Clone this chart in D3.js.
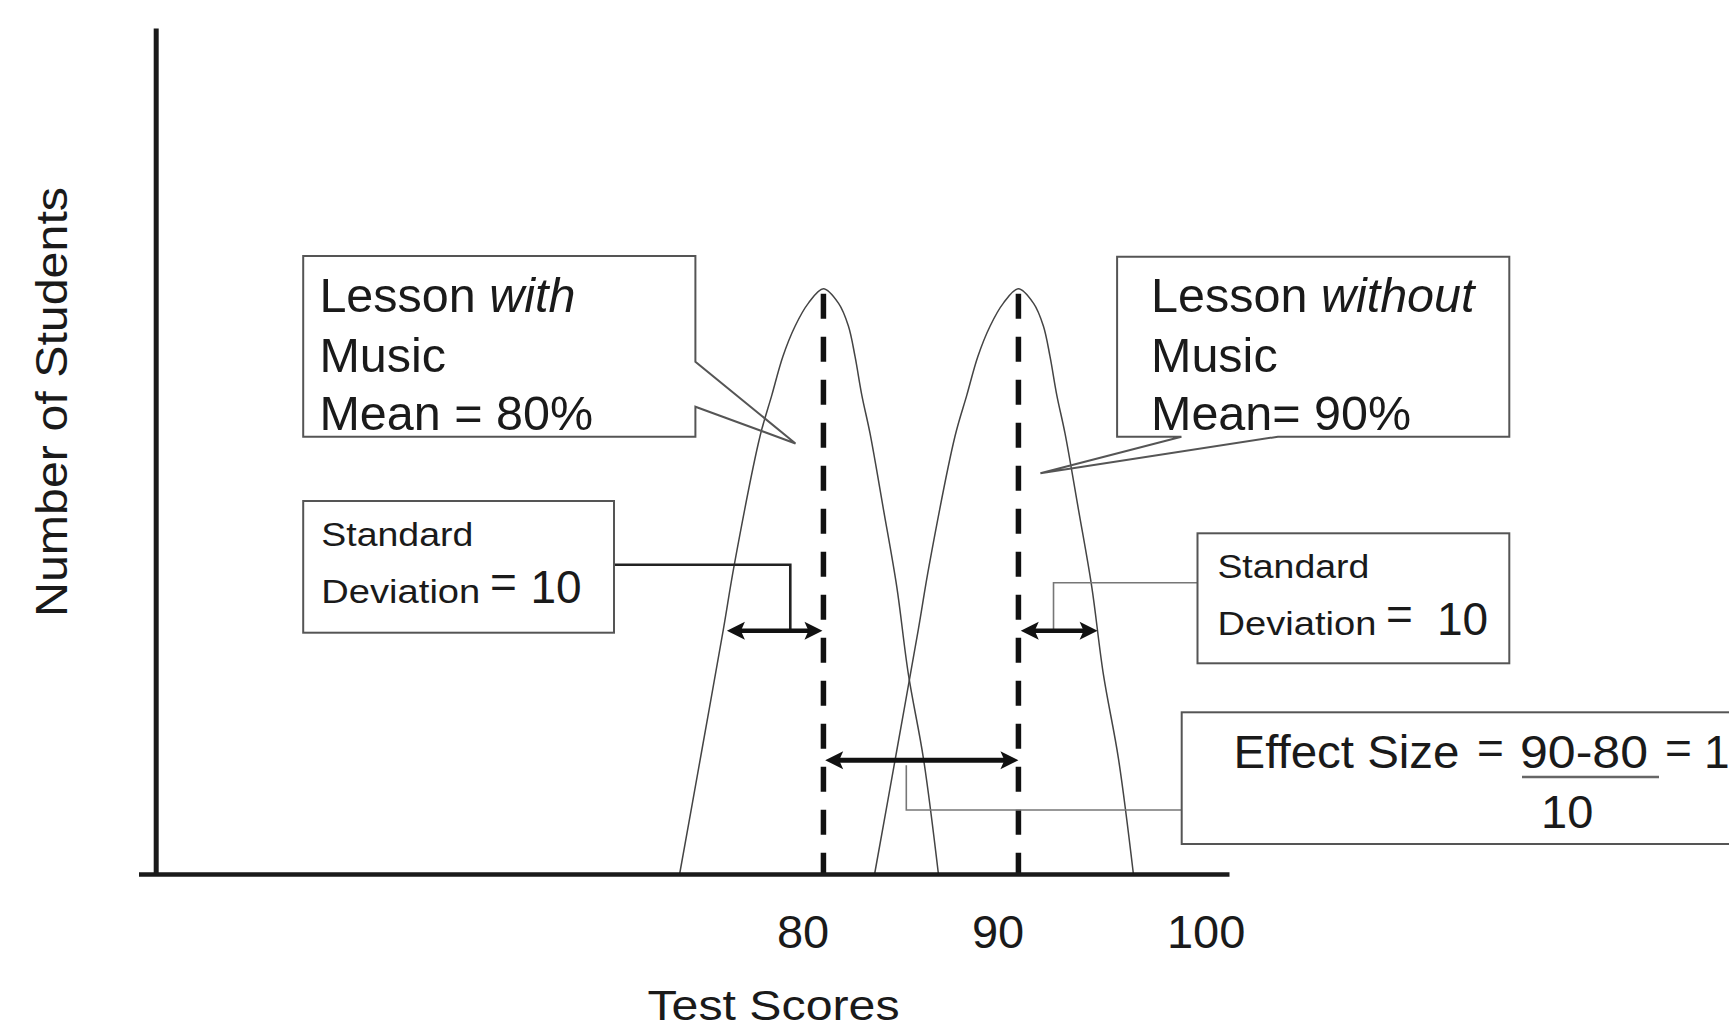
<!DOCTYPE html>
<html><head><meta charset="utf-8">
<script src="https://cdn.jsdelivr.net/npm/d3@7"></script>
<style>
html,body{margin:0;padding:0;background:#fff;}
svg{display:block;}
text{font-family:"Liberation Sans", Arial, Helvetica, sans-serif; fill:#1a1a1a;}
</style></head><body>
<svg id="chart" width="1729" height="1030"></svg>
<script>
// ---------- data ----------
const xTickValues = [80, 90, 100];
const xTickLabels = ["80", "90", "100"];
const seriesNames = ["with", "without"];
const means = [80, 90];
const standardDeviations = [10, 10];
const effectSize = 1;
// distribution outlines: [test score, number of students]
const withMusicCurve = [[72.62,0],[73.75,14.5],[74.87,29.0],[75.42,36.5],[76.75,51.8],[77.35,56.6],[77.92,61.2],[78.55,64.8],[79.23,67.5],[80.0,69.2],[80.77,67.5],[81.28,64.8],[81.62,61.2],[81.97,56.6],[82.39,52.1],[83.08,43.1],[83.76,34.0],[84.36,23.6],[85.13,13.7],[85.90,0]];
const withoutMusicCurve = [[82.62,0],[83.75,14.5],[84.87,29.0],[85.42,36.5],[86.75,51.8],[87.35,56.6],[87.92,61.2],[88.55,64.8],[89.23,67.5],[90.0,69.2],[90.77,67.5],[91.28,64.8],[91.62,61.2],[91.97,56.6],[92.39,52.1],[93.08,43.1],[93.76,34.0],[94.36,23.6],[95.13,13.7],[95.90,0]];
// arrows (score units) and their heights (count units)
const sdArrowFrom = [75.05, 90.12];
const sdArrowTo = [79.95, 94.06];
const sdArrowLevel = [28.8, 28.8];
const effectArrowSpan = [80.09, 90.0];
const effectArrowLevel = [13.5];
const connectorScores = [78.3, 91.8, 84.25];

// ---------- scales ----------
const svg = d3.select("#chart");
const x = d3.scaleLinear().domain([45, 100.8]).range([141, 1229]);
const y = d3.scaleLinear().domain([0, 100]).range([874.5, 28]);

const ink = "#1a1a1a";
const boxStroke = "#555";

// ---------- curves ----------
const line = d3.line().x(d => x(d[0])).y(d => y(d[1])).curve(d3.curveCatmullRom.alpha(0.5));
svg.selectAll("path.curve").data([withMusicCurve, withoutMusicCurve]).join("path")
  .attr("class","curve").attr("d", line)
  .attr("fill","none").attr("stroke","#444").attr("stroke-width",1.5);

// ---------- mean dashed lines ----------
const curves = [withMusicCurve, withoutMusicCurve];
svg.selectAll("line.mean").data(means).join("line")
  .attr("class","mean")
  .attr("x1", d => x(d)).attr("x2", d => x(d))
  .attr("y1", (d,i) => y(d3.max(curves[i], p => p[1])) + 5)
  .attr("y2", y(0))
  .attr("stroke", "#111").attr("stroke-width", 5.5)
  .attr("stroke-dasharray", "25,18");

// ---------- connectors ----------
svg.append("path")
  .attr("d", `M614,${y(36.6)} H${x(connectorScores[0])} V${y(sdArrowLevel[0])}`)
  .attr("fill","none").attr("stroke","#222").attr("stroke-width",2.6);
svg.append("path")
  .attr("d", `M1197.5,582.7 H${x(connectorScores[1])} V${y(sdArrowLevel[1])}`)
  .attr("fill","none").attr("stroke","#777").attr("stroke-width",1.6);
svg.append("path")
  .attr("d", `M1181.7,810 H${x(connectorScores[2])} V${y(effectArrowLevel[0]) + 5}`)
  .attr("fill","none").attr("stroke","#777").attr("stroke-width",1.6);

// ---------- arrows ----------
function arrow(s1, s2, level, w) {
  const x1 = x(s1), x2 = x(s2), yy = y(level);
  const L = 18, H = 9, N = 4;
  svg.append("line").attr("x1", x1 + 8).attr("x2", x2 - 8).attr("y1", yy).attr("y2", yy)
    .attr("stroke", "#111").attr("stroke-width", w);
  svg.append("path")
    .attr("d", `M${x1},${yy} L${x1+L},${yy-H} L${x1+L-N},${yy} L${x1+L},${yy+H} Z`)
    .attr("fill", "#111");
  svg.append("path")
    .attr("d", `M${x2},${yy} L${x2-L},${yy-H} L${x2-L+N},${yy} L${x2-L},${yy+H} Z`)
    .attr("fill", "#111");
}
sdArrowFrom.forEach((f, i) => arrow(f, sdArrowTo[i], sdArrowLevel[i], 4.5));
arrow(effectArrowSpan[0], effectArrowSpan[1], effectArrowLevel[0], 5);

// ---------- callout boxes ----------
svg.append("path")
  .attr("d", "M303.2,256 H695.4 V361.7 L795.5,443.5 L695.4,406.7 V436.7 H303.2 Z")
  .attr("fill","none").attr("stroke",boxStroke).attr("stroke-width",2);
svg.append("path")
  .attr("d", "M1117.1,256.7 H1509.3 V436.7 H1277.9 L1040.4,473.3 L1181.4,436.7 H1117.1 Z")
  .attr("fill","none").attr("stroke",boxStroke).attr("stroke-width",2);
svg.append("rect").attr("x",303.2).attr("y",501).attr("width",310.8).attr("height",131.7)
  .attr("fill","none").attr("stroke",boxStroke).attr("stroke-width",2);
svg.append("rect").attr("x",1197.5).attr("y",533.3).attr("width",311.8).attr("height",130)
  .attr("fill","none").attr("stroke",boxStroke).attr("stroke-width",2);
svg.append("rect").attr("x",1181.7).attr("y",712.3).attr("width",600).attr("height",131.7)
  .attr("fill","none").attr("stroke",boxStroke).attr("stroke-width",2);

// ---------- box texts ----------
function lessonBox(x0, name, meanText) {
  const t1 = svg.append("text").attr("x", x0).attr("y", 311.7).attr("font-size", 48.5);
  t1.append("tspan").text("Lesson ");
  t1.append("tspan").attr("font-style","italic").text(name);
  svg.append("text").attr("x", x0).attr("y", 371.7).attr("font-size", 48.5).text("Music");
  svg.append("text").attr("x", x0).attr("y", 430).attr("font-size", 48.5).text(meanText);
}
lessonBox(319.4, seriesNames[0], `Mean = ${means[0]}%`);
lessonBox(1151, seriesNames[1], `Mean= ${means[1]}%`);

function sdBox(x0, yTop, eqX, valX, sd) {
  svg.append("text").attr("x", x0).attr("y", yTop).attr("font-size", 33)
    .attr("textLength", 152).attr("lengthAdjust","spacingAndGlyphs").text("Standard");
  svg.append("text").attr("x", x0).attr("y", yTop + 57).attr("font-size", 33)
    .attr("textLength", 159).attr("lengthAdjust","spacingAndGlyphs").text("Deviation");
  svg.append("text").attr("x", eqX).attr("y", yTop + 52).attr("font-size", 46).text("=");
  svg.append("text").attr("x", valX).attr("y", yTop + 57).attr("font-size", 46).text(sd);
}
sdBox(321.3, 545.7, 490, 530.5, standardDeviations[0]);
sdBox(1217.4, 578.3, 1386, 1437, standardDeviations[1]);

// effect size
svg.append("text").attr("x", 1233.5).attr("y", 768.3).attr("font-size", 46)
  .attr("textLength", 226).attr("lengthAdjust","spacingAndGlyphs").text("Effect Size");
svg.append("text").attr("x", 1477).attr("y", 764).attr("font-size", 46).text("=");
svg.append("text").attr("x", 1520).attr("y", 768.3).attr("font-size", 46)
  .attr("textLength", 128).attr("lengthAdjust","spacingAndGlyphs").text(`${means[1]}-${means[0]}`);
svg.append("line").attr("x1",1522).attr("x2",1659).attr("y1",777).attr("y2",777)
  .attr("stroke","#666").attr("stroke-width",2.5);
svg.append("text").attr("x", 1665).attr("y", 764).attr("font-size", 46).text("=");
svg.append("text").attr("x", 1704).attr("y", 768.3).attr("font-size", 46).text(effectSize);
svg.append("text").attr("x", 1541).attr("y", 828.3).attr("font-size", 47).text(standardDeviations[0]);

// ---------- axes ----------
const xAxis = d3.axisBottom(x).tickValues(xTickValues).tickSize(0).tickSizeOuter(0)
  .tickFormat((d,i) => xTickLabels[i]);
const gx = svg.append("g").attr("transform", `translate(0,${y(0)})`).call(xAxis);
gx.select(".domain").attr("stroke", ink).attr("stroke-width", 4.5).attr("d", `M139,0H1229.5`);
gx.selectAll(".tick text").attr("fill", ink).attr("font-family", null)
  .attr("font-size", 47).attr("text-anchor","start").attr("x", -47).attr("y", 73.8).attr("dy", 0);

const yAxis = d3.axisLeft(y).tickValues([]).tickSizeOuter(0);
const gy = svg.append("g").attr("transform", "translate(155.7,0)").call(yAxis);
gy.select(".domain").attr("stroke", ink).attr("stroke-width", 5);

// axis titles
svg.append("text").attr("x", 647.5).attr("y", 1020).attr("font-size", 43)
  .attr("textLength", 252).attr("lengthAdjust","spacingAndGlyphs").text("Test Scores");
svg.append("text").attr("transform", "translate(66.7,402) rotate(-90)")
  .attr("text-anchor","middle").attr("font-size", 45)
  .attr("textLength", 430).attr("lengthAdjust","spacingAndGlyphs").text("Number of Students");
</script>
</body></html>
